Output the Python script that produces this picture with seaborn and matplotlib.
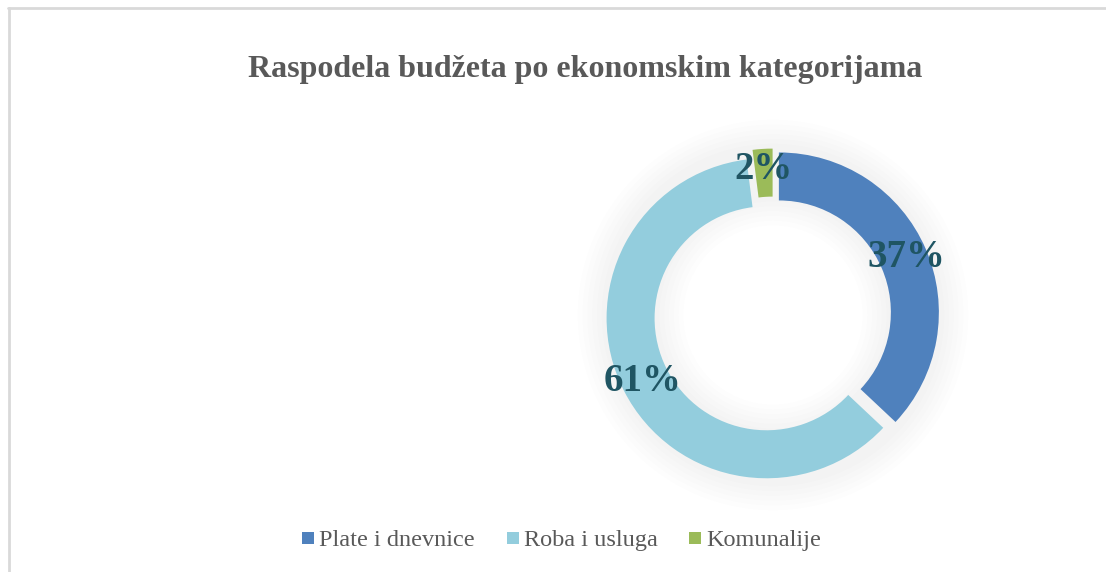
import matplotlib
matplotlib.use("Agg")
import matplotlib.pyplot as plt
from matplotlib.lines import Line2D
import seaborn as sns

# podaci
kategorije = ["Plate i dnevnice", "Roba i usluga", "Komunalije"]
udjeli = [37, 61, 2]
boje = ["#4F81BD", "#93CDDD", "#9BBB59"]
naslov = "Raspodela budžeta po ekonomskim kategorijama"

sns.set_theme(style="white")
plt.rcParams["font.family"] = ["Liberation Serif", "DejaVu Serif"]

fig = plt.figure(figsize=(11.06, 5.72), dpi=100)
fig.patch.set_facecolor("white")

# okvir grafikona (gornja i lijeva ivica)
fig.add_artist(Line2D([8 / 1106, 1], [1 - 8 / 572, 1 - 8 / 572], color="#D9D9D9", lw=2))
fig.add_artist(Line2D([9 / 1106, 9 / 1106], [0, 1 - 8 / 572], color="#D9D9D9", lw=2))

# osa za krofnu: centar (773, 315) px, 160 px po jedinici
cx, cy, half = 773, 315, 200
ax = fig.add_axes([(cx - half) / 1106, (572 - cy - half) / 572, 2 * half / 1106, 2 * half / 572])
ax.set_aspect("equal")
ax.axis("off")

# blaga sjena oko prstena
for i in range(6):
    ax.pie([1], radius=1.04 + 0.03 * (i + 1), colors=["#808080"],
           wedgeprops=dict(width=0.36 + 0.06 * i, alpha=0.016, linewidth=0))

wedges, texts, pcts = ax.pie(
    udjeli, colors=boje, startangle=90, counterclock=False,
    explode=[0.04, 0.045, 0.04], radius=1.0,
    autopct=lambda p: f"{p:.0f}%", pctdistance=0.87,
    wedgeprops=dict(width=0.3, linewidth=0),
    textprops=dict(color="#1F5563", fontsize=28, fontweight="bold"),
)
ax.set_xlim(-1.25, 1.25)
ax.set_ylim(-1.25, 1.25)

fig.text(585 / 1106, 1 - 70 / 572, naslov, ha="center", va="center",
         fontsize=23, fontweight="bold", color="#595959")

ruke = [Line2D([], [], marker="s", linestyle="", markersize=9,
               markerfacecolor=b, markeredgewidth=0) for b in boje]
fig.legend(ruke, kategorije, loc="center", bbox_to_anchor=(561 / 1106, 1 - 540 / 572),
           ncol=3, frameon=False, fontsize=17.5, labelcolor="#595959",
           handlelength=0.6, handletextpad=0.15, columnspacing=1.25)

fig.savefig("out.png", dpi=100, facecolor="white")
